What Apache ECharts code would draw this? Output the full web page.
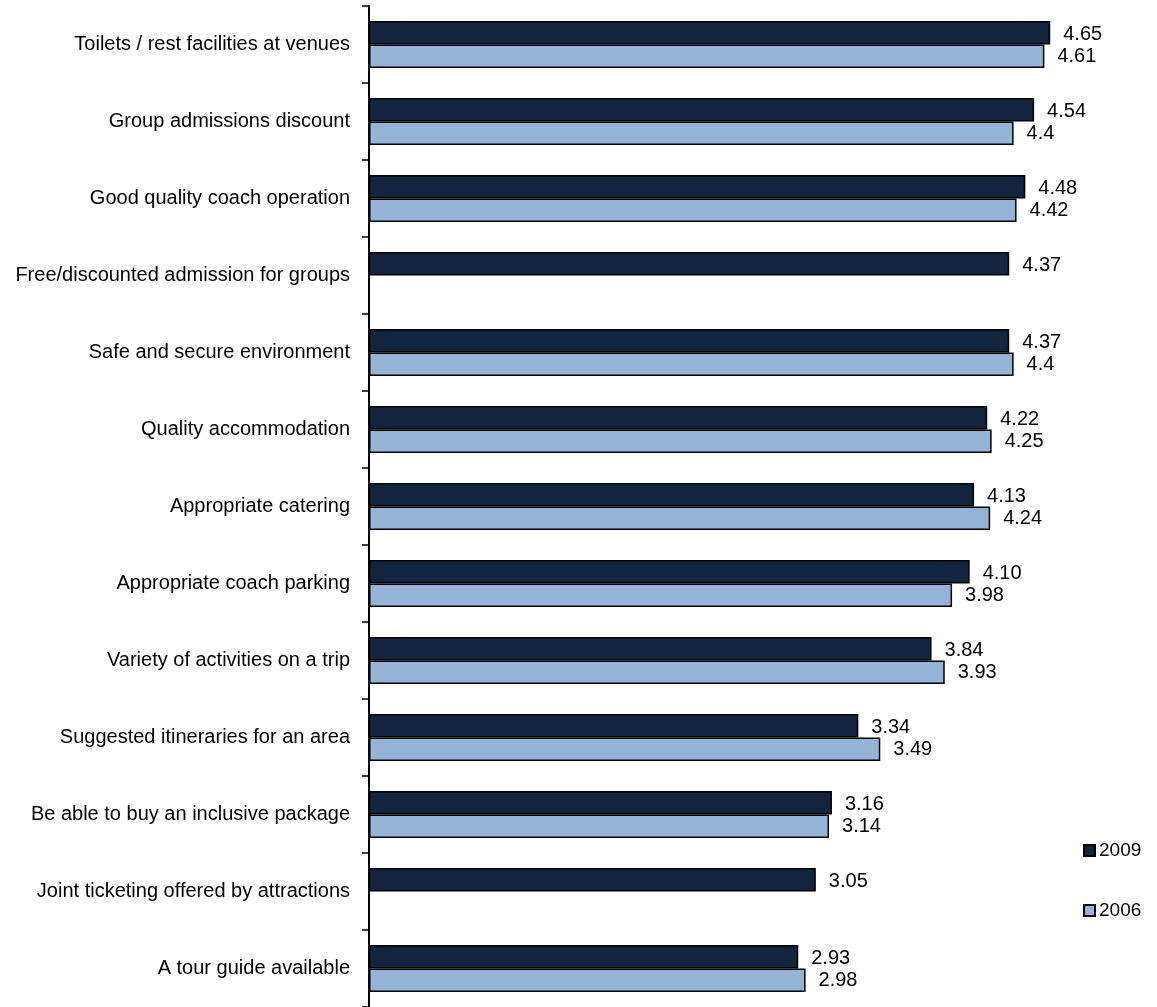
<!DOCTYPE html>
<html>
<head>
<meta charset="utf-8">
<script src="https://cdn.jsdelivr.net/npm/echarts@6/dist/echarts.min.js"></script>
<style>
html,body{margin:0;padding:0;background:#fff;}
#chart{width:1157px;height:1007px;}
</style>
</head>
<body>
<div id="chart"></div>
<script>
var categories = [
  "Toilets / rest facilities at venues",
  "Group admissions discount",
  "Good quality coach operation",
  "Free/discounted admission for groups",
  "Safe and secure environment",
  "Quality accommodation",
  "Appropriate catering",
  "Appropriate coach parking",
  "Variety of activities on a trip",
  "Suggested itineraries for an area",
  "Be able to buy an inclusive package",
  "Joint ticketing offered by attractions",
  "A tour guide available"
];
var values2009 = [4.65, 4.54, 4.48, 4.37, 4.37, 4.22, 4.13, 4.10, 3.84, 3.34, 3.16, 3.05, 2.93];
var values2006 = [4.61, 4.4, 4.42, null, 4.4, 4.25, 4.24, 3.98, 3.93, 3.49, 3.14, null, 2.98];
var seriesNames = ["2009", "2006"];

var FONT = "'Liberation Sans', Arial, sans-serif";
var chart = echarts.init(document.getElementById('chart'));
chart.setOption({
  animation: false,
  backgroundColor: '#ffffff',
  grid: {left: 369, right: 55.5, top: 6, bottom: 0, containLabel: false},
  legend: {
    data: seriesNames,
    orient: 'vertical',
    left: 1078,
    top: 836,
    itemGap: 41,
    itemWidth: 11,
    itemHeight: 11,
    icon: 'rect',
    textStyle: {fontFamily: FONT, fontSize: 19, color: '#000', padding: [0,0,0,-1]}
  },
  xAxis: {
    type: 'value', min: 0, max: 5,
    show: false,
    splitLine: {show: false}
  },
  yAxis: {
    type: 'category',
    data: categories,
    inverse: true,
    axisLine: {lineStyle: {color: '#000', width: 2}},
    axisTick: {show: true, length: 7, lineStyle: {color: '#000', width: 1.5}},
    axisLabel: {fontFamily: FONT, fontSize: 20, color: '#000', margin: 19}
  },
  series: [
    {
      name: seriesNames[0], type: 'bar', data: values2009,
      barGap: '0%', barCategoryGap: '39%',
      itemStyle: {color: '#13243f', borderColor: '#000', borderWidth: 1.5},
      label: {show: true, position: 'right', distance: 13, offset: [0, 2],
        fontFamily: FONT, fontSize: 20, color: '#000',
        formatter: function(p){ return p.value == null ? '' : Number(p.value).toFixed(2); }}
    },
    {
      name: seriesNames[1], type: 'bar', data: values2006,
      barGap: '0%', barCategoryGap: '39%',
      itemStyle: {color: '#95b3d7', borderColor: '#000', borderWidth: 1.5},
      label: {show: true, position: 'right', distance: 13,
        fontFamily: FONT, fontSize: 20, color: '#000',
        formatter: function(p){ return p.value == null ? '' : String(p.value); }}
    }
  ]
});
</script>
</body>
</html>
